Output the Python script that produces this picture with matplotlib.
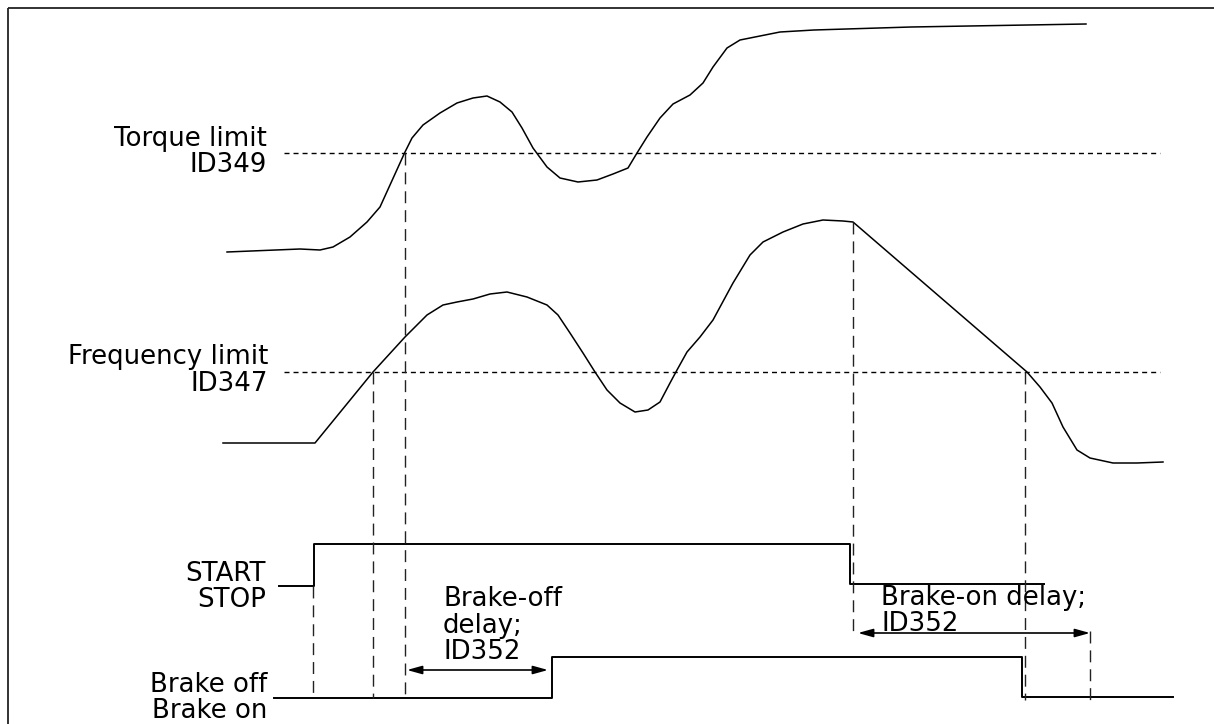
import matplotlib
matplotlib.use("Agg")
import matplotlib.pyplot as plt

# ---------------- data (pixel-like units, y down) -------------
torque_x = [227, 300, 320, 333, 350, 367, 380, 390, 400, 405, 412, 423, 440, 457, 473,
            487, 500, 512, 522, 533, 547, 560, 578, 597, 613, 628, 637, 647, 660, 673,
            690, 703, 713, 727, 740, 760, 780, 814, 911, 1086]
torque_y = [252, 249, 250, 247, 237, 222, 207, 185, 163, 152, 138, 125, 113, 103, 98,
            96, 102, 112, 128, 148, 167, 178, 182, 180, 174, 168, 153, 137, 118, 104,
            95, 83, 67, 48, 40, 36, 32, 30, 27, 24]

freq_x = [223, 315, 373, 405, 427, 443, 457, 473, 490, 507, 527, 547, 558, 570, 583,
          595, 607, 620, 635, 648, 660, 670, 677, 687, 700, 713, 733, 750, 763, 783,
          803, 823, 843, 853, 1027, 1040, 1052, 1063, 1077, 1090, 1113, 1137, 1163]
freq_y = [443, 443, 372, 337, 315, 305, 302, 299, 294, 292, 297, 305, 315, 333, 353,
          372, 390, 403, 412, 410, 402, 383, 370, 352, 337, 320, 283, 255, 242, 232,
          224, 220, 221, 222, 372, 387, 403, 427, 450, 458, 463, 463, 462]

start_x = [279, 314, 314, 850, 850, 1044]
start_y = [586, 586, 544, 544, 584, 584]

brake_x = [274, 552, 552, 1022, 1022, 1173]
brake_y = [698, 698, 657, 657, 697, 697]

torque_limit_y = 153
freq_limit_y = 372
limit_x = (284, 1160)

# vertical guide lines: x, y_top, y_bottom
guide_x = [313, 373, 405, 853, 1025, 1090]
guide_top = [586, 372, 153, 222, 372, 631]
guide_bot = [698, 698, 698, 632, 700, 702]

# arrows: x_start, x_end, y
arrow_x0 = [407, 858]
arrow_x1 = [548, 1090]
arrow_y = [670, 633]

# labels: text, x, baseline y, horizontal alignment
label_text = ["Torque limit", "ID349", "Frequency limit", "ID347", "START", "STOP",
              "Brake off", "Brake on", "Brake-off", "delay;", "ID352",
              "Brake-on delay;", "ID352"]
label_x = [267, 267, 268, 268, 266, 266, 267, 267, 443, 443, 443, 881, 881]
label_y = [146, 172, 364, 391, 581, 607, 692, 718, 606, 633, 659, 605, 631]
label_ha = ["right"] * 8 + ["left"] * 5

# ---------------- drawing ----------------
W, H = 1214, 724
fig = plt.figure(figsize=(W / 100, H / 100), dpi=100)
ax = fig.add_axes([0, 0, 1, 1])
ax.set_xlim(0, W)
ax.set_ylim(H, 0)
ax.axis("off")

# frame (top and left visible)
ax.plot([8, W], [8, 8], color="#222222", lw=1.3, solid_capstyle="butt")
ax.plot([8, 8], [8, H], color="#222222", lw=1.3, solid_capstyle="butt")

# curves
ax.plot(torque_x, torque_y, color="black", lw=1.1, solid_joinstyle="round")
ax.plot(freq_x, freq_y, color="black", lw=1.1, solid_joinstyle="round")

# limit lines (fine dashes)
for ly in (torque_limit_y, freq_limit_y):
    ax.plot(limit_x, [ly, ly], color="black", lw=1.0, dashes=(3.6, 2.9))

# signals
ax.plot(start_x, start_y, color="black", lw=1.4)
ax.plot(brake_x, brake_y, color="black", lw=1.4)

# vertical dashed guides
for gx, gt, gb in zip(guide_x, guide_top, guide_bot):
    ax.plot([gx, gx], [gt, gb], color="#222222", lw=1.0, dashes=(8.6, 5.0))

# arrows
for x0, x1, y in zip(arrow_x0, arrow_x1, arrow_y):
    ax.annotate("", xy=(x1, y), xytext=(x0, y),
                arrowprops=dict(arrowstyle="<|-|>,head_length=0.9,head_width=0.25",
                                lw=1.2, color="black", shrinkA=0, shrinkB=0))

# text
for t, x, y, ha in zip(label_text, label_x, label_y, label_ha):
    ax.text(x, y, t, ha=ha, va="baseline", fontsize=18.7,
            family="DejaVu Sans", color="black")

fig.savefig("out.png", dpi=100)
